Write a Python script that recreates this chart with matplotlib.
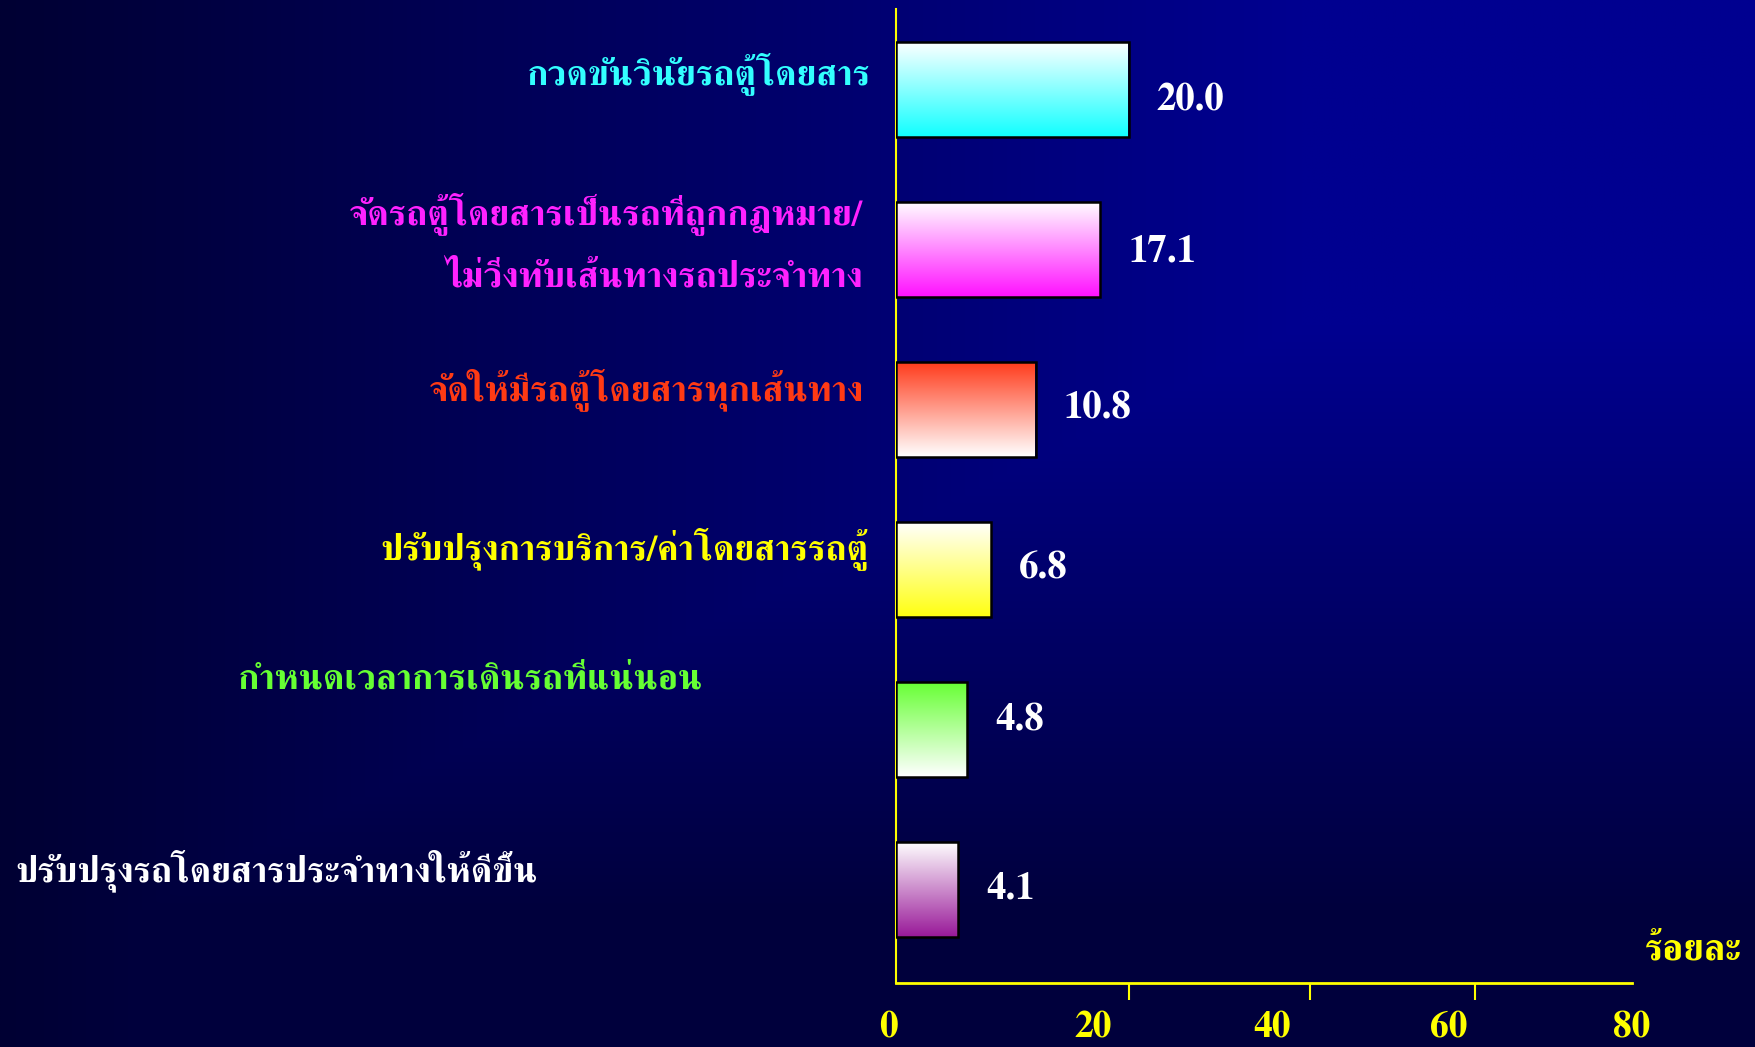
import numpy as np
import matplotlib
matplotlib.use("Agg")
import matplotlib.pyplot as plt
from matplotlib.transforms import blended_transform_factory, ScaledTranslation
from matplotlib.scale import FuncScale

# ---------------- data ----------------
categories = [
    "กวดขันวินัยรถตู้โดยสาร",
    "จัดรถตู้โดยสารเป็นรถที่ถูกกฎหมาย/\nไม่วิ่งทับเส้นทางรถประจำทาง",
    "จัดให้มีรถตู้โดยสารทุกเส้นทาง",
    "ปรับปรุงการบริการ/ค่าโดยสารรถตู้",
    "กำหนดเวลาการเดินรถที่แน่นอน",
    "ปรับปรุงรถโดยสารประจำทางให้ดีขึ้น",
]
values = [20.0, 17.1, 10.8, 6.8, 4.8, 4.1]
value_labels = ["20.0", "17.1", "10.8", "6.8", "4.8", "4.1"]
x_ticks = [0, 20, 40, 60, 80]
x_tick_labels = ["0", "20", "40", "60", "80"]
unit_label = "ร้อยละ"

# ---------------- styles ----------------
label_colors = ["#33FFFF", "#FF22FF", "#FF3A14", "#FFFF00", "#66FF33", "#FFFFFF"]
bar_grad = [("#FFFFFF", "#11FFFF"), ("#FFFFFF", "#FF11FF"), ("#FF3A1A", "#FFFFFF"),
            ("#FFFFFF", "#FFFF11"), ("#66FF33", "#FFFFFF"), ("#FFFFFF", "#991A99")]

THAI_FAM = ["FreeSerif", "Taviraj", "DejaVu Sans"]
SERIF = ["FreeSerif", "Liberation Serif"]

W, H = 1756, 1047
fig = plt.figure(figsize=(W / 100, H / 100), dpi=100)

# background "from corner" gradient
bg = fig.add_axes([0, 0, 1, 1], zorder=-10)
xs = np.linspace(0, 1, 400)
ys = np.linspace(0, 1, 240)
X, Y = np.meshgrid(xs, ys)
g = np.clip(1.35 * X, 0, 1)
h = np.clip(1.5 - 1.6 * Y, 0.1, 1)
f = np.minimum(g, h)
img = np.zeros(X.shape + (3,))
img[..., 2] = (51 + 93 * f) / 255.0
bg.imshow(img, aspect="auto", extent=(0, 1, 1, 0), interpolation="bilinear")
bg.set_xlim(0, 1); bg.set_ylim(1, 0)
bg.axis("off")

ax = fig.add_axes([0.5102, 0.0610, 0.9292 - 0.5102, 0.9914 - 0.0610])
ax.patch.set_alpha(0)
p = 0.83
ax.set_xscale(FuncScale(ax.xaxis, (lambda v: np.sign(v) * np.abs(v) ** p,
                                    lambda v: np.sign(v) * np.abs(v) ** (1 / p))))
n = len(values)
ypos = np.arange(n)
bh = 0.595
ylim = (5.588, -0.504)

for i, (v, (c_top, c_bot)) in enumerate(zip(values, bar_grad)):
    top = np.array(matplotlib.colors.to_rgb(c_top))
    bot = np.array(matplotlib.colors.to_rgb(c_bot))
    t = np.linspace(0, 1, 256)[:, None, None]
    grad = top[None, None, :] * (1 - t) + bot[None, None, :] * t
    ax.imshow(grad, aspect="auto", extent=(0, v, ypos[i] + bh / 2, ypos[i] - bh / 2),
              origin="upper", interpolation="bilinear", zorder=3)
bars = ax.barh(ypos, values, height=bh, facecolor="none", edgecolor="black",
               linewidth=1.8, zorder=4)
ax.set_xlim(0, 80)
ax.set_ylim(*ylim)

val_dy = [-8, -2, 0, 0, 6, 0]
for i, v in enumerate(values):
    ax.annotate(value_labels[i], (v, ypos[i]), xytext=(20, val_dy[i]), textcoords="offset points",
                ha="left", va="center", color="white", fontsize=28, fontweight="bold",
                family=SERIF, zorder=5)

for s in ["top", "right"]:
    ax.spines[s].set_visible(False)
ax.spines["left"].set_color("#FFFF00")
ax.spines["left"].set_linewidth(1.5)
ax.spines["bottom"].set_color("#FFFF00")
ax.spines["bottom"].set_linewidth(2.0)
ax.set_yticks([])
ax.set_xticks([20, 40, 60])
ax.tick_params(axis="x", length=12, width=1.5, color="#FFFF00", direction="out",
               labelbottom=False)
tr = blended_transform_factory(ax.transData, ax.transAxes)
label_dx = [-5.6, -26, -27, -19, 0]
for xv, lab, dx in zip(x_ticks, x_tick_labels, label_dx):
    ax.text(xv, 0, lab, transform=tr + ScaledTranslation(dx / 72, -33 / 72, fig.dpi_scale_trans),
            ha="center", va="center", color="#FFFF00", fontsize=27, fontweight="bold",
            family=SERIF, clip_on=False)

lab_pos = [(0.4962, 0.9198, "right"), (0.4911, 0.7861, "right"), (0.4923, 0.6182, "right"),
           (0.4943, 0.4663, "right"), (0.4005, 0.3422, "right"), (0.0089, 0.1583, "left")]
for i, (x, y, ha) in enumerate(lab_pos):
    lines = categories[i].split("\n")
    for k, line in enumerate(lines):
        fig.text(x, y - k * 0.0599, line, ha=ha, va="baseline", color=label_colors[i],
                 fontsize=26, fontweight="bold", family=THAI_FAM)

fig.text(0.9917, 0.0834, unit_label, ha="right", va="baseline", color="#FFFF00",
         fontsize=27, fontweight="bold", family=THAI_FAM)

fig.savefig("out.png", dpi=100)
